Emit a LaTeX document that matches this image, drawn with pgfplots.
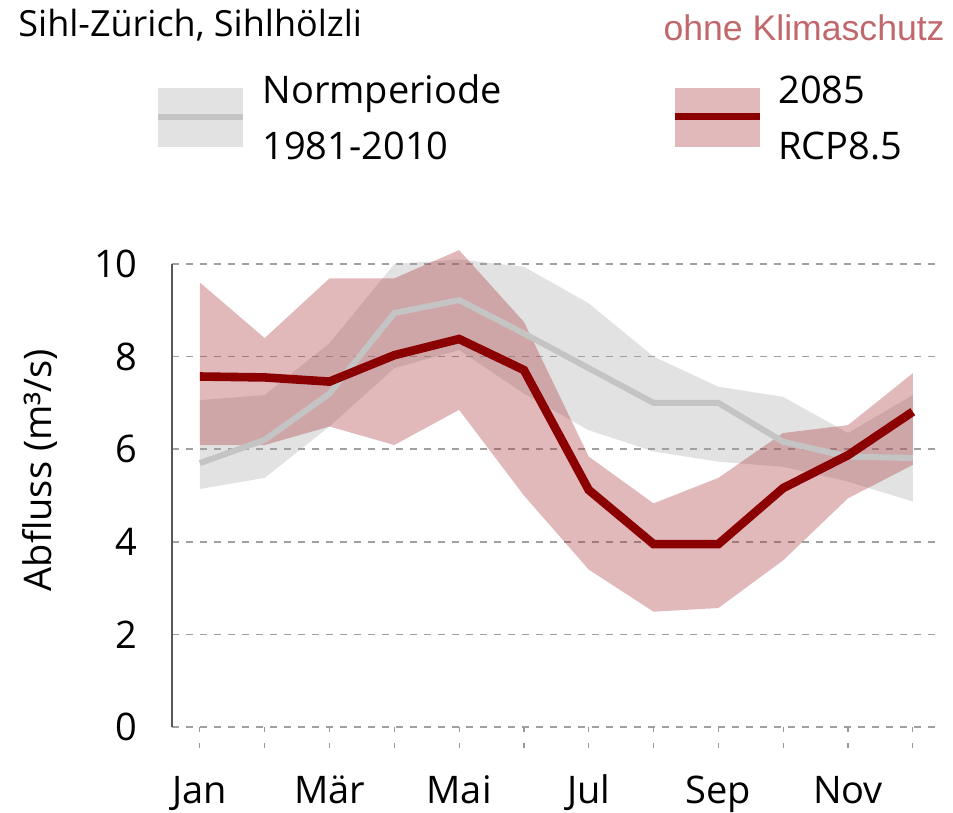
\documentclass[border=0pt]{standalone}
\usepackage{fontspec}
\setmainfont{Open Sans}
\newfontfamily\arialfont{Liberation Sans}
\usepackage{pgfplots}
\pgfplotsset{compat=1.18}
\usepgfplotslibrary{fillbetween}

\definecolor{normband}{RGB}{160,160,160}
\definecolor{normline}{RGB}{196,196,196}
\definecolor{rcpband}{RGB}{169,55,61}
\definecolor{rcpline}{RGB}{139,0,0}
\definecolor{klima}{RGB}{192,104,108}
\definecolor{gridgray}{RGB}{160,160,160}

\newcommand\bigfont{\fontsize{19}{22}\selectfont}

\begin{document}
\begin{tikzpicture}
\path (0,0) rectangle (476.5pt,405.5pt);

% everything outside the axis in pixel units of the reference, y downwards
\begin{scope}[x=0.5pt,y=-0.5pt,yshift=405.5pt]
\node[anchor=base west, inner sep=0pt, font=\fontsize{18}{21}\selectfont] at (18,37) {Sihl-Zürich, Sihlhölzli};
\node[anchor=base east, inner sep=0pt, text=klima, font=\arialfont\fontsize{17.8}{21}\selectfont] at (945,41) {ohne Klimaschutz};

\fill[normband!30] (158,88) rectangle (243,147);
\draw[normline, line width=3pt] (158,117) -- (243,117);
\node[anchor=base west, inner sep=0pt, font=\bigfont] at (262,104) {Normperiode};
\node[anchor=base west, inner sep=0pt, font=\bigfont] at (262,160) {1981-2010};
\fill[rcpband, fill opacity=0.35] (675,88) rectangle (760,147);
\draw[rcpline, line width=3.5pt] (675,117) -- (760,117);
\node[anchor=base west, inner sep=0pt, font=\bigfont] at (778,104) {2085};
\node[anchor=base west, inner sep=0pt, font=\bigfont] at (778,160) {RCP8.5};

\node[rotate=90, font=\bigfont] at (40,470) {Abfluss (m³/s)};
\end{scope}

\begin{axis}[
    at={(86pt,42pt)}, anchor=south west,
    width=384pt, height=231.5pt, scale only axis,
    xmin=-0.43, xmax=11.42, ymin=0, ymax=10,
    clip=false,
    xtick={0,...,11},
    xticklabels={Jan,,Mär,,Mai,,Jul,,Sep,,Nov,},
    ytick={0,2,...,10},
    ymajorgrids,
    grid style={gridgray, line width=0.9pt, dash pattern=on 3.5pt off 3.5pt},
    axis x line*=bottom, axis y line*=left,
    x axis line style={draw=none},
    y axis line style={black!65, line width=0.7pt},
    tick align=outside,
    major tick length=13pt,
    xtick style={gray!80, line width=0.6pt, dash pattern=on 2.5pt off 5.5pt, dash phase=5.5pt},
    ytick style={draw=none},
    tick label style={font=\bigfont},
    xticklabel style={anchor=base, inner sep=0pt, yshift=-25pt},
    yticklabel style={anchor=east, inner sep=0pt, xshift=-4pt},
    /pgf/number format/assume math mode=true,
]
% Normperiode 1981-2010
\addplot[name path=nu, draw=none] coordinates {(0,7.06) (1,7.17) (2,8.29) (3,10.0) (4,10.1) (5,9.94) (6,9.15) (7,8.0) (8,7.35) (9,7.13) (10,6.35) (11,7.17)};
\addplot[name path=nl, draw=none] coordinates {(0,5.14) (1,5.38) (2,6.49) (3,7.75) (4,8.14) (5,7.2) (6,6.41) (7,5.95) (8,5.73) (9,5.62) (10,5.30) (11,4.87)};
\addplot[normband, fill opacity=0.3, draw=none] fill between[of=nu and nl];
\addplot[normline, line width=3pt] coordinates {(0,5.70) (1,6.20) (2,7.2) (3,8.94) (4,9.22) (5,8.50) (6,7.75) (7,7.0) (8,7.0) (9,6.16) (10,5.84) (11,5.81)};
% 2085 RCP8.5
\addplot[name path=ru, draw=none] coordinates {(0,9.6) (1,8.4) (2,9.69) (3,9.69) (4,10.3) (5,8.75) (6,5.84) (7,4.83) (8,5.38) (9,6.35) (10,6.52) (11,7.64)};
\addplot[name path=rl, draw=none] coordinates {(0,6.09) (1,6.09) (2,6.49) (3,6.09) (4,6.85) (5,5.0) (6,3.4) (7,2.49) (8,2.57) (9,3.6) (10,4.94) (11,5.66)};
\addplot[rcpband, fill opacity=0.35, draw=none] fill between[of=ru and rl];
\addplot[rcpline, line width=4.3pt] coordinates {(0,7.57) (1,7.55) (2,7.46) (3,8.03) (4,8.38) (5,7.71) (6,5.12) (7,3.95) (8,3.95) (9,5.16) (10,5.87) (11,6.81)};
\end{axis}
\end{tikzpicture}
\end{document}
